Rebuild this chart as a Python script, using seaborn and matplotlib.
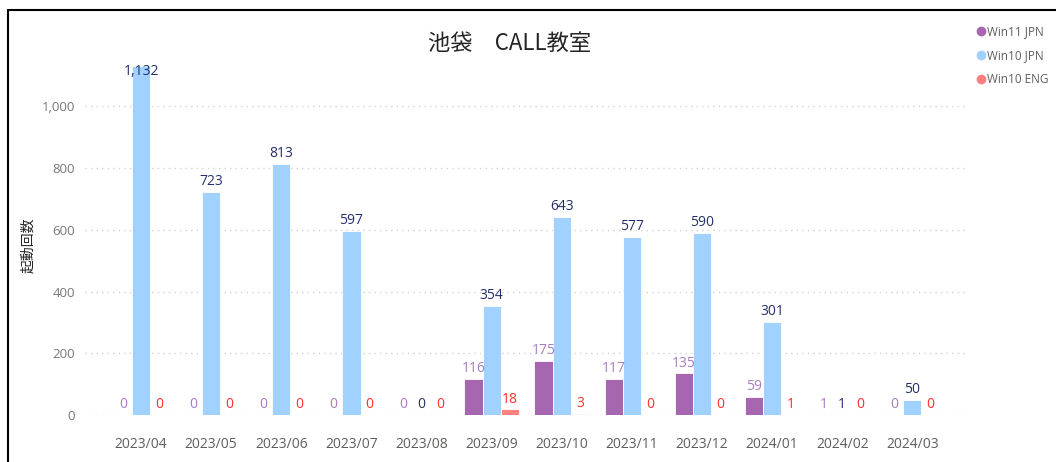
import matplotlib
matplotlib.use("Agg")
import matplotlib.pyplot as plt
from matplotlib.lines import Line2D
import seaborn as sns
import pandas as pd

months = ["2023/04", "2023/05", "2023/06", "2023/07", "2023/08", "2023/09",
          "2023/10", "2023/11", "2023/12", "2024/01", "2024/02", "2024/03"]
series_names = ["Win11 JPN", "Win10 JPN", "Win10 ENG"]
win11_jpn = [0, 0, 0, 0, 0, 116, 175, 117, 135, 59, 1, 0]
win10_jpn = [1132, 723, 813, 597, 0, 354, 643, 577, 590, 301, 1, 50]
win10_eng = [0, 0, 0, 0, 0, 18, 3, 0, 0, 1, 0, 0]
yticks = [0, 200, 400, 600, 800, 1000]

bar_colors = ["#A666B0", "#A0D1FF", "#FF8080"]
label_colors = ["#A77DC2", "#252F6B", "#FF2E2E"]

sns.set_theme(style="white")
plt.rcParams["font.family"] = ["Open Sans", "Noto Sans CJK JP", "DejaVu Sans"]
CJK = ["Noto Sans CJK JP", "DejaVu Sans"]

rows = []
for name, vals in zip(series_names, [win11_jpn, win10_jpn, win10_eng]):
    for m, v in zip(months, vals):
        rows.append({"month": m, "count": v, "series": name})
df = pd.DataFrame(rows)

fig = plt.figure(figsize=(10.56, 4.62), dpi=100)
ax = fig.add_axes([85 / 1056, 1 - 415 / 462, (967 - 85) / 1056, 355 / 462])

sns.barplot(data=df, x="month", y="count", hue="series", order=months,
            hue_order=series_names, palette=bar_colors, width=0.78,
            saturation=1, ax=ax, legend=False, edgecolor="white", linewidth=0.6)

ax.set_xlim(-0.8, 11.78)
ax.set_ylim(0, 1150)
ax.set_yticks(yticks)
ax.set_yticklabels([f"{t:,}" for t in yticks], fontsize=9.5, color="#777777")
ax.grid(axis="y", linestyle=(0, (1, 3)), color="#D2D2D2", linewidth=1)
ax.set_axisbelow(True)
for s in ax.spines.values():
    s.set_visible(False)
ax.tick_params(axis="x", length=0, pad=16, labelsize=10, labelcolor="#605E5C")
ax.tick_params(axis="y", length=0, pad=7)
ax.set_xlabel("")
ax.set_ylabel("")

ylim_top = ax.get_ylim()[1]
for cont, lc in zip(ax.containers, label_colors):
    for bar in cont:
        h = bar.get_height()
        x = bar.get_x() + bar.get_width() / 2
        txt = f"{h:,.0f}"
        if h > ylim_top * 0.95:
            ax.annotate(txt, (x, h), xytext=(0, 1), textcoords="offset points",
                        ha="center", va="top", fontsize=10, color=lc)
        else:
            ax.annotate(txt, (x, h), xytext=(0, 2), textcoords="offset points",
                        ha="center", va="bottom", fontsize=10, color=lc)

fig.text(510 / 1056, 1 - 43 / 462, "池袋　CALL教室", ha="center", va="center",
         fontsize=16, color="#252423", family=CJK)
fig.text(28 / 1056, 1 - 245 / 462, "起動回数", ha="center", va="center",
         rotation=90, fontsize=10, color="#252423", family=CJK)

handles = [Line2D([0], [0], marker="o", linestyle="", markersize=6,
                  markerfacecolor=c, markeredgecolor=c) for c in bar_colors]
leg = fig.legend(handles, series_names, loc="upper left",
                 bbox_to_anchor=(975 / 1056, 1 - 25 / 462), frameon=False,
                 fontsize=8.5, handletextpad=0.05, labelspacing=0.95,
                 borderaxespad=0, handlelength=1, borderpad=0)
for t in leg.get_texts():
    t.set_color("#605E5C")

fig.add_artist(Line2D([8 / 1056, 8 / 1056], [0, 1 - 10 / 462],
                      color="black", linewidth=1.5, transform=fig.transFigure))
fig.add_artist(Line2D([8 / 1056, 1], [1 - 10 / 462, 1 - 10 / 462],
                      color="black", linewidth=1.5, transform=fig.transFigure))

fig.savefig("out.png", dpi=100)
